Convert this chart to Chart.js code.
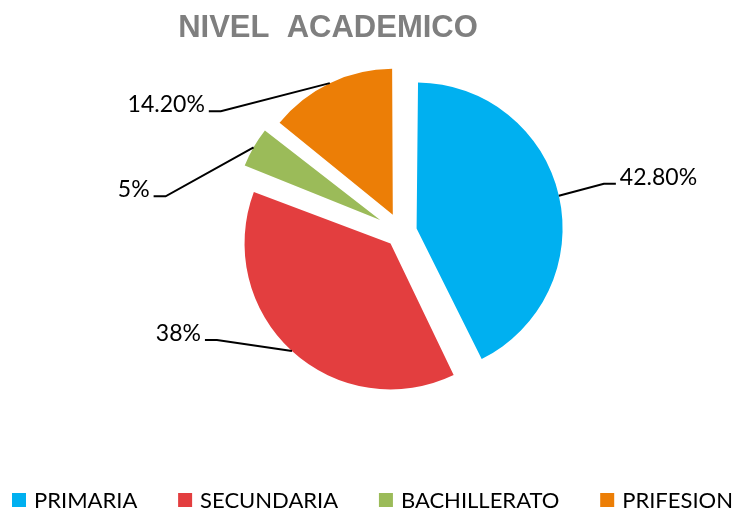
<!DOCTYPE html>
<html lang="es">
<head>
<meta charset="UTF-8">
<title>Nivel academico</title>
<script src="https://cdn.jsdelivr.net/npm/chart.js"></script>
<style>
  html, body { margin: 0; padding: 0; background: #fff; }
</style>
</head>
<body>
<canvas id="nivelChart" width="740" height="515"></canvas>
<script>
var categories = ['PRIMARIA', 'SECUNDARIA', 'BACHILLERATO', 'PRIFESION'];
var percents = [42.8, 38, 5, 14.2];
var sliceColors = ['#00B0F0', '#E33E3F', '#9BBB59', '#EC7E06'];
var chartTitle = 'NIVEL  ACADEMICO';

// how far each slice is pulled out of the pie (px)
var explode = [16, 15.5, 24, 19];
var pieRadius = 146;
// leader line: slice edge -> elbow (dx, dy)
var leaders = [[45, -12], [-75, -11], [-88, 49], [-109, 28]];

function fmtPct(v) {
  return (Number.isInteger(v) ? v : v.toFixed(2)) + '%';
}

// chart.js grows the radius of offset slices a bit, undo that so all slices match
var explodeFix = {
  id: 'explodeFix',
  afterDatasetUpdate: function (chart, args) {
    chart.getDatasetMeta(args.index).data.forEach(function (arc, i) {
      var fix = 1 - Math.sin(Math.min(Math.PI, arc.circumference));
      arc.outerRadius = pieRadius - explode[i] * fix;
    });
  }
};

// title, data labels with leader lines, legend
var decor = {
  id: 'decor',
  afterDraw: function (chart) {
    var ctx = chart.ctx;
    var arcs = chart.getDatasetMeta(0).data;
    ctx.save();

    ctx.font = 'bold 31px "Liberation Sans", Arial, sans-serif';
    ctx.fillStyle = '#7F7F7F';
    ctx.textAlign = 'center';
    ctx.textBaseline = 'alphabetic';
    ctx.fillText(chartTitle, 328, 37);

    ctx.font = '23px Lato, sans-serif';
    ctx.fillStyle = '#000';
    ctx.strokeStyle = '#000';
    ctx.lineWidth = 2;
    arcs.forEach(function (arc, i) {
      var mid = (arc.startAngle + arc.endAngle) / 2;
      var cx = arc.x + Math.cos(mid) * explode[i];
      var cy = arc.y + Math.sin(mid) * explode[i];
      var ax = cx + Math.cos(mid) * pieRadius;
      var ay = cy + Math.sin(mid) * pieRadius;
      var ex = ax + leaders[i][0];
      var ey = ay + leaders[i][1];
      var dir = leaders[i][0] > 0 ? 1 : -1;
      var tx = ex + dir * 12;
      ctx.beginPath();
      ctx.moveTo(ax, ay);
      ctx.lineTo(ex, ey);
      ctx.lineTo(tx, ey);
      ctx.stroke();
      ctx.textAlign = dir > 0 ? 'left' : 'right';
      ctx.fillText(fmtPct(percents[i]), tx + dir * 4, ey + 1);
    });

    // legend row across the bottom
    ctx.font = '22px Lato, sans-serif';
    ctx.textAlign = 'left';
    var box = 14, gapText = 8, left = 12, right = 733;
    var widths = categories.map(function (c) { return box + gapText + ctx.measureText(c).width; });
    var used = widths.reduce(function (a, b) { return a + b; }, 0);
    var gap = (right - left - used) / (categories.length - 1);
    var x = left;
    categories.forEach(function (c, i) {
      ctx.fillStyle = sliceColors[i];
      ctx.fillRect(x, 493, box, box);
      ctx.fillStyle = '#000';
      ctx.fillText(c, x + box + gapText, 508);
      x += widths[i] + gap;
    });
    ctx.restore();
  }
};

new Chart(document.getElementById('nivelChart'), {
  type: 'pie',
  data: {
    labels: categories,
    datasets: [{
      data: percents,
      backgroundColor: sliceColors,
      borderWidth: 0,
      offset: function (c) { return explode[c.dataIndex] * 4; }
    }]
  },
  options: {
    responsive: false,
    animation: false,
    events: [],
    radius: pieRadius,
    layout: { padding: { left: 62, right: 0, top: 0, bottom: 51 } },
    plugins: {
      legend: { display: false },
      title: { display: false },
      tooltip: { enabled: false }
    }
  },
  plugins: [explodeFix, decor]
});
</script>
</body>
</html>
